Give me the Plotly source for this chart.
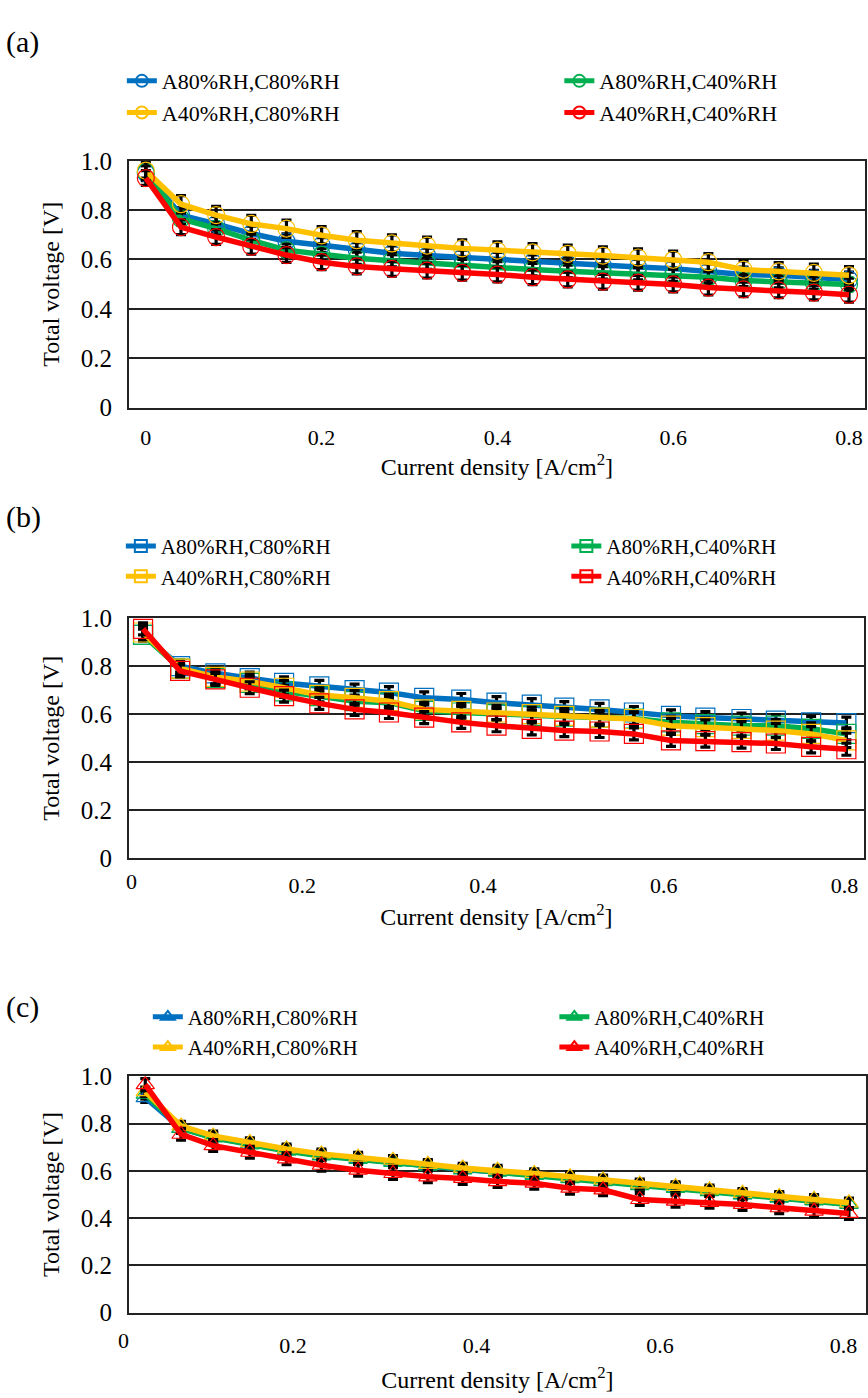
import plotly.graph_objects as go

W, H = 868, 1398
FONT = '"Liberation Serif", "Times New Roman", Times, serif'

names = ["A80%RH,C80%RH", "A80%RH,C40%RH", "A40%RH,C80%RH", "A40%RH,C40%RH"]
colors = ["#0070C0", "#00B050", "#FFC000", "#FF0000"]

# ---- panel (a) : circles ----
x_a = [0.00, 0.04, 0.08, 0.12, 0.16, 0.20, 0.24, 0.28, 0.32, 0.36, 0.40,
       0.44, 0.48, 0.52, 0.56, 0.60, 0.64, 0.68, 0.72, 0.76, 0.80]
a_blue = [0.95, 0.78, 0.744, 0.705, 0.674, 0.658, 0.638, 0.625, 0.616, 0.608, 0.599,
          0.589, 0.583, 0.575, 0.570, 0.563, 0.552, 0.539, 0.536, 0.526, 0.519]
a_green = [0.955, 0.765, 0.725, 0.678, 0.638, 0.619, 0.605, 0.595, 0.585, 0.575, 0.566,
           0.559, 0.552, 0.546, 0.542, 0.536, 0.528, 0.515, 0.510, 0.505, 0.499]
a_yellow = [0.96, 0.824, 0.78, 0.744, 0.725, 0.698, 0.678, 0.665, 0.656, 0.645, 0.636,
            0.629, 0.623, 0.616, 0.608, 0.599, 0.589, 0.559, 0.552, 0.546, 0.536]
a_red = [0.93, 0.731, 0.691, 0.652, 0.618, 0.589, 0.572, 0.562, 0.555, 0.546, 0.539,
         0.528, 0.519, 0.510, 0.506, 0.499, 0.486, 0.479, 0.475, 0.466, 0.457]
a_err = [0.03, 0.025, 0.035, 0.03]

# ---- panel (b) : squares ----
x_b = [0.024, 0.065, 0.104, 0.142, 0.180, 0.219, 0.258, 0.296, 0.335, 0.376, 0.415,
       0.454, 0.490, 0.529, 0.567, 0.608, 0.646, 0.686, 0.724, 0.763, 0.802]
b_blue = [0.93, 0.80, 0.77, 0.75, 0.73, 0.716, 0.70, 0.69, 0.668, 0.661, 0.648,
          0.64, 0.627, 0.62, 0.607, 0.593, 0.586, 0.58, 0.573, 0.566, 0.563]
b_green = [0.93, 0.79, 0.75, 0.73, 0.695, 0.675, 0.654, 0.648, 0.614, 0.607, 0.60,
           0.593, 0.59, 0.586, 0.582, 0.566, 0.559, 0.552, 0.552, 0.539, 0.518]
b_yellow = [0.94, 0.79, 0.755, 0.736, 0.71, 0.68, 0.668, 0.654, 0.62, 0.614, 0.607,
            0.60, 0.593, 0.586, 0.58, 0.552, 0.546, 0.539, 0.532, 0.518, 0.491]
b_red = [0.955, 0.78, 0.745, 0.71, 0.675, 0.645, 0.62, 0.607, 0.586, 0.566, 0.552,
         0.539, 0.532, 0.528, 0.518, 0.491, 0.488, 0.484, 0.478, 0.464, 0.454]
b_err = [0.025, 0.025, 0.03, 0.025]

# ---- panel (c) : triangles ----
x_c = [0.039, 0.078, 0.113, 0.153, 0.193, 0.231, 0.271, 0.309, 0.347, 0.385, 0.423,
       0.463, 0.502, 0.538, 0.578, 0.617, 0.654, 0.690, 0.730, 0.768, 0.806]
c_blue = [0.91, 0.78, 0.742, 0.713, 0.687, 0.666, 0.652, 0.638, 0.622, 0.606, 0.597,
          0.583, 0.569, 0.556, 0.54, 0.528, 0.514, 0.50, 0.487, 0.475, 0.46]
c_green = [0.925, 0.78, 0.74, 0.71, 0.684, 0.663, 0.649, 0.636, 0.62, 0.604, 0.595,
           0.581, 0.567, 0.554, 0.538, 0.526, 0.512, 0.498, 0.485, 0.473, 0.458]
c_yellow = [0.935, 0.79, 0.748, 0.72, 0.693, 0.672, 0.658, 0.645, 0.628, 0.612, 0.603,
            0.589, 0.575, 0.562, 0.545, 0.534, 0.52, 0.505, 0.492, 0.48, 0.465]
c_red = [0.965, 0.755, 0.707, 0.679, 0.651, 0.624, 0.603, 0.589, 0.575, 0.568, 0.555,
         0.548, 0.527, 0.52, 0.479, 0.472, 0.467, 0.458, 0.444, 0.43, 0.42]
c_err = [0.02, 0.02, 0.02, 0.025]

y_ticks = [0, 0.2, 0.4, 0.6, 0.8, 1.0]
y_ticktext = ["0", "0.2", "0.4", "0.6", "0.8", "1.0"]
x_ticks = [0, 0.2, 0.4, 0.6, 0.8]
x_ticktext = ["0", "0.2", "0.4", "0.6", "0.8"]
panel_labels = ["(a)", "(b)", "(c)"]
x_title = "Current density [A/cm<sup>2</sup>]"
y_title = "Total voltage [V]"


def px_x(p):
    return p / W


def px_y(p):
    return 1 - p / H


panels = [
    dict(x=x_a, ys=[a_blue, a_green, a_yellow, a_red], err=a_err, symbol="circle-open", size=17,
         top=150.7, bottom=402.3, left=129, right=866, xrange=[-0.0193, 0.8182],
         leg_top=48, leg_x=(122, 560), leg_font=22, label_y=30,
         tick_standoff=9, title_standoff=0),
    dict(x=x_b, ys=[b_blue, b_green, b_yellow, b_red], err=b_err, symbol="square-open", size=19,
         top=617, bottom=862, left=129, right=865, xrange=[0.0083, 0.8215],
         leg_top=523, leg_x=(121, 567), leg_font=21, label_y=514,
         tick_standoff=6, title_standoff=12),
    dict(x=x_c, ys=[c_blue, c_green, c_yellow, c_red], err=c_err, symbol="triangle-up-open", size=16,
         top=1084.3, bottom=1325.3, left=129, right=867, xrange=[0.0211, 0.8246],
         leg_top=1003, leg_x=(148, 555), leg_font=21, label_y=1014,
         tick_standoff=12, title_standoff=14),
]

fig = go.Figure()
layout = dict(
    width=W, height=H, margin=dict(l=0, r=0, t=0, b=0),
    paper_bgcolor="white", plot_bgcolor="white",
    font=dict(family=FONT, color="black", size=20),
    showlegend=True, annotations=[],
)

for i, p in enumerate(panels):
    sfx = "" if i == 0 else str(i + 1)
    xa, ya = "x" + sfx, "y" + sfx
    leg_left = "legend" if i == 0 else "legend" + str(2 * i + 1)
    leg_right = "legend" + str(2 * i + 2)
    for j in range(4):
        fig.add_trace(go.Scatter(
            x=p["x"], y=p["ys"][j], name=names[j], mode="lines+markers",
            xaxis=xa, yaxis=ya, legend=(leg_left if j in (0, 2) else leg_right),
            line=dict(color=colors[j], width=5.5),
            marker=dict(symbol=p["symbol"], size=p["size"], color=colors[j],
                        line=dict(color=colors[j], width=1.2)),
            error_y=dict(type="constant", value=p["err"][j], color="black",
                         thickness=3.2, width=5),
        ))
    axis_common = dict(showline=True, mirror=True, linecolor="#222", linewidth=1.5,
                       zeroline=False, ticks="")
    if i == 0:
        xtv, xtt = x_ticks, x_ticktext
    else:
        xtv, xtt = x_ticks[1:], x_ticktext[1:]
    layout["xaxis" + sfx] = dict(
        axis_common, domain=[px_x(p["left"]), px_x(p["right"])], range=p["xrange"],
        anchor=ya, showgrid=False, tickvals=xtv, ticktext=xtt,
        tickfont=dict(family=FONT, size=22), ticklabelstandoff=p["tick_standoff"],
        title=dict(text=x_title, font=dict(family=FONT, size=24), standoff=p["title_standoff"]),
    )
    layout["yaxis" + sfx] = dict(
        axis_common, domain=[px_y(p["bottom"]), px_y(p["top"])], range=[0, 1.0],
        anchor=xa, showgrid=True, gridcolor="#222", gridwidth=1.5,
        tickvals=y_ticks, ticktext=y_ticktext,
        tickfont=dict(family=FONT, size=25), ticklabelstandoff=10,
        title=dict(text=y_title, font=dict(family=FONT, size=24), standoff=14),
    )
    for k, lg in enumerate((leg_left, leg_right)):
        layout[lg] = dict(
            orientation="v", x=px_x(p["leg_x"][k]), xanchor="left",
            y=px_y(p["leg_top"]), yanchor="top",
            font=dict(family=FONT, size=p["leg_font"]), bgcolor="rgba(0,0,0,0)",
            itemsizing="constant", traceorder="normal",
        )
    layout["annotations"].append(dict(
        text=panel_labels[i], x=px_x(4), y=px_y(p["label_y"]), xref="paper", yref="paper",
        xanchor="left", yanchor="middle", showarrow=False, font=dict(family=FONT, size=30),
    ))
    if i > 0:
        layout["annotations"].append(dict(
            text="0", x=px_x(132 if i == 1 else 124),
            y=px_y(p["bottom"] + (24 if i == 1 else 28)),
            xref="paper", yref="paper", xanchor="center", yanchor="middle", showarrow=False,
            font=dict(family=FONT, size=22),
        ))

fig.update_layout(**layout)
fig.write_html("out.html")
